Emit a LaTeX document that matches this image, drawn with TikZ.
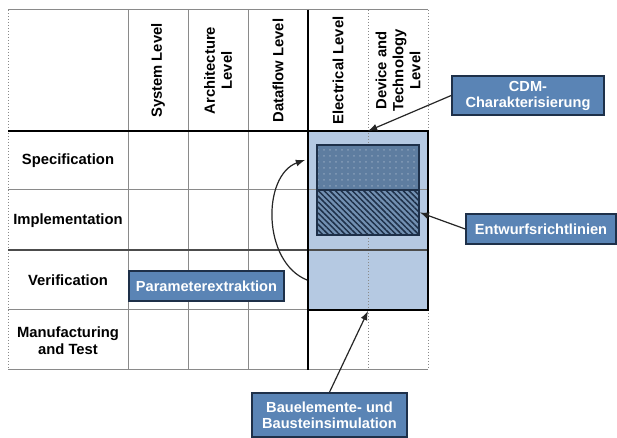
\documentclass[tikz,border=0pt]{standalone}
\usepackage{fontspec}
\setmainfont{Liberation Sans}
\usepackage{xcolor}
\usetikzlibrary{patterns,patterns.meta}

\definecolor{areablue}{HTML}{B5C9E2}
\definecolor{boxblue}{HTML}{5A84B5}
\definecolor{boxedge}{HTML}{1E3049}
\definecolor{specblue}{HTML}{5E7DA0}
\definecolor{hatchblue}{HTML}{7290B2}
\definecolor{gridgray}{HTML}{8A8A8A}

\begin{document}
\begin{tikzpicture}[
    x                 = {(0.5pt,0)},
    y                 = {(0,-0.5pt)},
    every node/.style = {font=\fontsize{7.4}{8.5}\selectfont\bfseries, align=center},
    grid/.style       = {draw=gridgray, line width=0.5pt},
    heavy/.style      = {draw=black, line width=0.8pt},
    callout/.style    = {draw=boxedge, line width=0.8pt, fill=boxblue, text=white,
                         font=\fontsize{7.3}{8}\selectfont\bfseries, inner sep=1pt},
    pointer/.style    = {draw=black!85, line width=0.6pt, -latex},
    cdmpart/.style    = {draw=boxedge, line width=0.6pt, minimum width=51pt,
                         minimum height=22.5pt, inner sep=0pt}
  ]
\useasboundingbox (0,0) rectangle (617,438);
\fill[white] (0,0) rectangle (617,438);

% shaded area of electrical / device level
\fill[areablue] (308,131) rectangle (428,310);

% grid
\draw[grid] (8,10) -- (428,10);
\draw[grid, densely dotted] (8,10) -- (8,370);
\draw[grid, densely dotted] (428,10) -- (428,370);
\draw[grid, densely dotted] (368,10) -- (368,370);
\foreach \x in {128,188,248}
  \draw[grid] (\x,10) -- (\x,370);
\foreach \y in {190,310,370}
  \draw[grid] (8,\y) -- (428,\y);
\draw[draw=black!70, line width=0.6pt] (8,250) -- (428,250);
\draw[heavy] (8,131) -- (428,131);
\draw[heavy] (308,10) -- (308,370);
\draw[heavy] (308,131) rectangle (428,310);

% column heads
\node[rotate=90] (sys)  at (158,70.5) {System Level};
\node[rotate=90] (arch) at (218,70.5) {Architecture\\Level};
\node[rotate=90] (flow) at (278,70.5) {Dataflow Level};
\node[rotate=90] (elec) at (338,70.5) {Electrical Level};
\node[rotate=90] (dev)  at (398,70.5) {Device and\\Technology\\Level};

% row heads
\node (spec)  at (68,160.5) {Specification};
\node (impl)  at (68,220.5) {Implementation};
\node (verif) at (68,280.5) {Verification};
\node (manu)  at (68,340.5) {Manufacturing\\and Test};

% CDM blocks
\node[cdmpart, preaction={fill=specblue}, pattern=dots, pattern color=specblue!75!white]
      (model) at (368,167.5) {};
\node[cdmpart, preaction={fill=hatchblue},
      pattern={Lines[angle=-45, distance=2pt, line width=0.75pt]}, pattern color=boxedge]
      (guide) at (368,212.5) {};

% callouts
\node[callout, minimum width=76pt, minimum height=19.5pt]   (cdm)   at (528,95.5)  {CDM-\\Charakterisierung};
\node[callout, minimum width=75pt, minimum height=15pt]     (rules) at (541,229)   {Entwurfsrichtlinien};
\node[callout, minimum width=77.5pt, minimum height=15pt]   (param) at (206.5,286) {Parameterextraktion};
\node[callout, minimum width=77.5pt, minimum height=22pt]   (sim)   at (329.5,415) {Bauelemente- und\\Bausteinsimulation};

\coordinate (devtop) at (368,131);
\coordinate (devbot) at (368,311);
\coordinate (verifout) at (307,280);
\coordinate (specin) at (305,160);

\draw[pointer] (cdm.west) -- (devtop);
\draw[pointer] (rules.west) -- (guide.east);
\draw[pointer] (sim.north) -- (devbot);
\draw[pointer] (verifout) .. controls (262,262) and (262,175) .. (specin);

\end{tikzpicture}
\end{document}
